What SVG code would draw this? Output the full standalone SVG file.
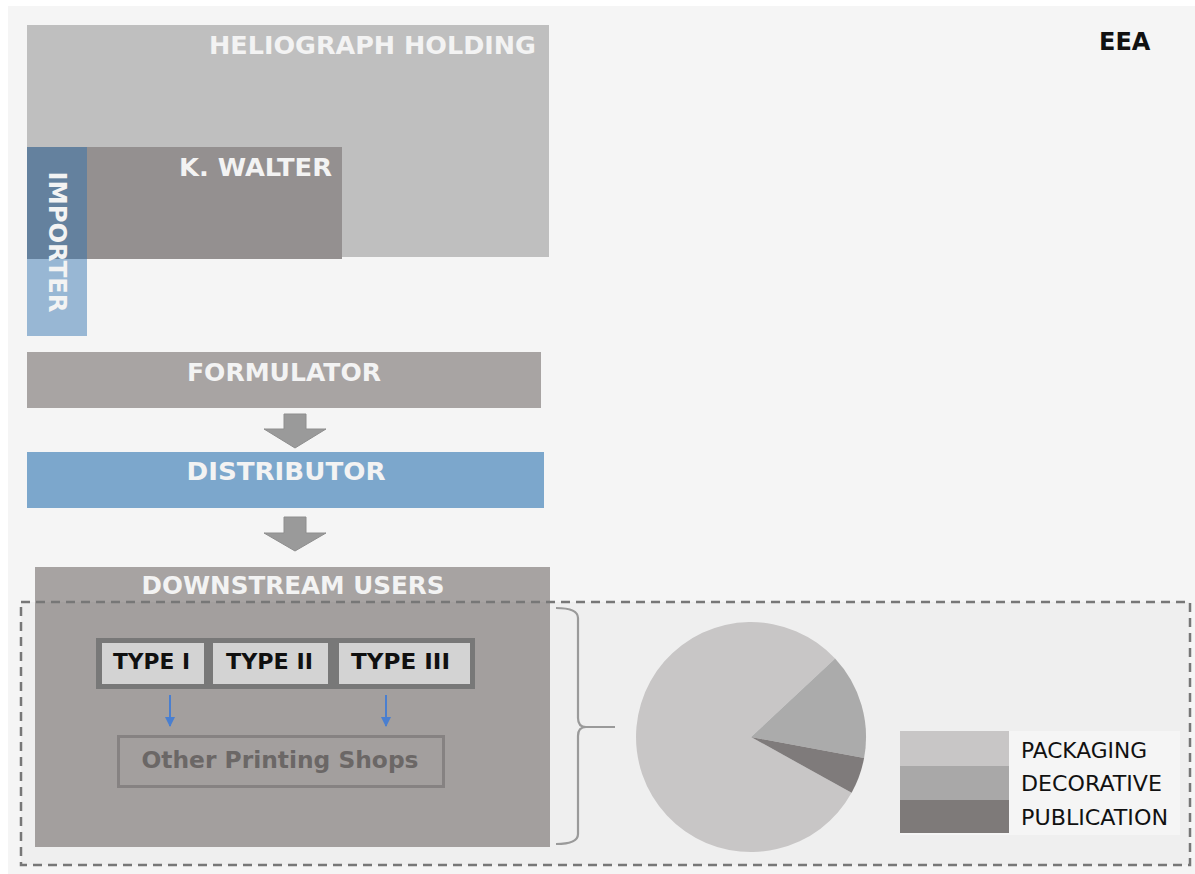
<svg xmlns="http://www.w3.org/2000/svg" width="1195" height="874" viewBox="0 0 1195 874">
<style>
.lbl{font-family:"DejaVu Sans","Liberation Sans",sans-serif;font-weight:bold;fill:#f3f3f3;font-size:25px}
.typ{font-family:"DejaVu Sans","Liberation Sans",sans-serif;font-weight:bold;fill:#111;font-size:21px;text-anchor:middle}
.leg{font-family:"DejaVu Sans","Liberation Sans",sans-serif;fill:#111;font-size:21px}
.blk{fill:#9a9a9a;stroke:#8e8e8e;stroke-width:1}
.tbox{fill:#d9d9d9}
</style>
<defs>
<marker id="ah" viewBox="0 0 10 10" refX="9" refY="5" markerWidth="5" markerHeight="5" orient="auto" markerUnits="strokeWidth">
<path d="M0,0 L10,5 L0,10 z" fill="#4a7fd0"/>
</marker>
</defs>
<rect x="0" y="0" width="1195" height="874" fill="#ffffff"/>
<rect x="8" y="6" width="1187" height="868" fill="#f5f5f5"/>

<g id="eea"><text x="1099" y="50" font-family="DejaVu Sans, Liberation Sans, sans-serif" font-weight="bold" font-size="24" fill="#111">EEA</text></g>

<g id="heliograph">
<rect x="27" y="25" width="522" height="232" fill="#bfbfbf"/>
<text class="lbl" x="536" y="54" text-anchor="end" textLength="327" lengthAdjust="spacingAndGlyphs">HELIOGRAPH HOLDING</text>
</g>
<g id="kwalter">
<rect x="27" y="147" width="315" height="112" fill="#949090"/>
<text class="lbl" x="332" y="176" text-anchor="end" textLength="153" lengthAdjust="spacingAndGlyphs">K. WALTER</text>
</g>
<g id="importer">
<rect x="27" y="147" width="60" height="189" fill="#2e70af" fill-opacity="0.47"/>
<text class="lbl" transform="translate(57,242) rotate(90)" x="0" y="8.5" text-anchor="middle" font-size="24" textLength="141" lengthAdjust="spacingAndGlyphs">IMPORTER</text>
</g>

<g id="formulator">
<rect x="27" y="352" width="514" height="56" fill="#a8a4a3"/>
<text class="lbl" x="284" y="381" text-anchor="middle" textLength="194" lengthAdjust="spacingAndGlyphs">FORMULATOR</text>
</g>
<g id="distributor">
<rect x="27" y="452" width="517" height="56" fill="#7ca7cc"/>
<text class="lbl" x="286" y="480" text-anchor="middle" textLength="199" lengthAdjust="spacingAndGlyphs">DISTRIBUTOR</text>
</g>

<g id="downstream">
<rect x="35" y="567" width="515" height="280" fill="#a7a3a2"/>
<text class="lbl" x="293" y="594" text-anchor="middle" textLength="303" lengthAdjust="spacingAndGlyphs">DOWNSTREAM USERS</text>
</g>

<g id="types">
<rect x="96" y="638" width="379" height="51" fill="#7b7b7b"/>
<g id="type1"><rect class="tbox" x="102" y="643" width="102" height="41"/><text class="typ" x="151.5" y="669" textLength="77" lengthAdjust="spacingAndGlyphs">TYPE I</text></g>
<g id="type2"><rect class="tbox" x="213" y="643" width="115" height="41"/><text class="typ" x="269.5" y="669" textLength="87" lengthAdjust="spacingAndGlyphs">TYPE II</text></g>
<g id="type3"><rect class="tbox" x="339" y="643" width="131" height="41"/><text class="typ" x="400.5" y="669" textLength="99" lengthAdjust="spacingAndGlyphs">TYPE III</text></g>
</g>

<g id="other-shops">
<rect x="118.5" y="736.5" width="325" height="50" fill="none" stroke="#8a8686" stroke-width="3"/>
<text x="280" y="768" text-anchor="middle" font-family="DejaVu Sans, Liberation Sans, sans-serif" font-weight="bold" font-size="23" fill="#6e6a69" textLength="277" lengthAdjust="spacingAndGlyphs">Other Printing Shops</text>
</g>

<g id="eea-scope">
<rect x="21" y="602" width="1169" height="263" fill="#000" fill-opacity="0.025" stroke="#777" stroke-width="2.5" stroke-dasharray="9,6"/>
</g>

<g id="connectors">
<path class="blk" d="M284,414 H306 V429 H326 L295,448 L264,429 H284 Z"/>
<path class="blk" d="M284,517 H306 V533 H326 L295,551 L264,533 H284 Z"/>
<line x1="170" y1="695" x2="170" y2="726" stroke="#4a7fd0" stroke-width="2" marker-end="url(#ah)"/>
<line x1="386" y1="695" x2="386" y2="726" stroke="#4a7fd0" stroke-width="2" marker-end="url(#ah)"/>
<path d="M556,608 Q578,608 578,618 V718 Q578,727 586,727 H615 M586,727 Q578,727 578,736 V834 Q578,844 556,844" fill="none" stroke="#9a9a9a" stroke-width="2.2"/>
</g>

<g id="pie">
<path d="M751,737 L851.6,792.8 A115,115 0 1 1 835.1,658.6 Z" fill="#c8c6c6"/>
<path d="M751,737 L835.1,658.6 A115,115 0 0 1 864.1,758 Z" fill="#ababab"/>
<path d="M751,737 L864.1,758 A115,115 0 0 1 851.6,792.8 Z" fill="#7f7b7b"/>
</g>

<g id="legend">
<rect x="900" y="731" width="280" height="104" fill="#f5f5f5"/>
<rect x="900" y="731" width="109" height="35" fill="#c8c6c6"/>
<rect x="900" y="766" width="109" height="34" fill="#a9a8a8"/>
<rect x="900" y="800" width="109" height="33" fill="#7e7a79"/>
<text class="leg" x="1021" y="758" textLength="126" lengthAdjust="spacingAndGlyphs">PACKAGING</text>
<text class="leg" x="1021" y="791" textLength="141" lengthAdjust="spacingAndGlyphs">DECORATIVE</text>
<text class="leg" x="1021" y="825" textLength="147" lengthAdjust="spacingAndGlyphs">PUBLICATION</text>
</g>
</svg>
